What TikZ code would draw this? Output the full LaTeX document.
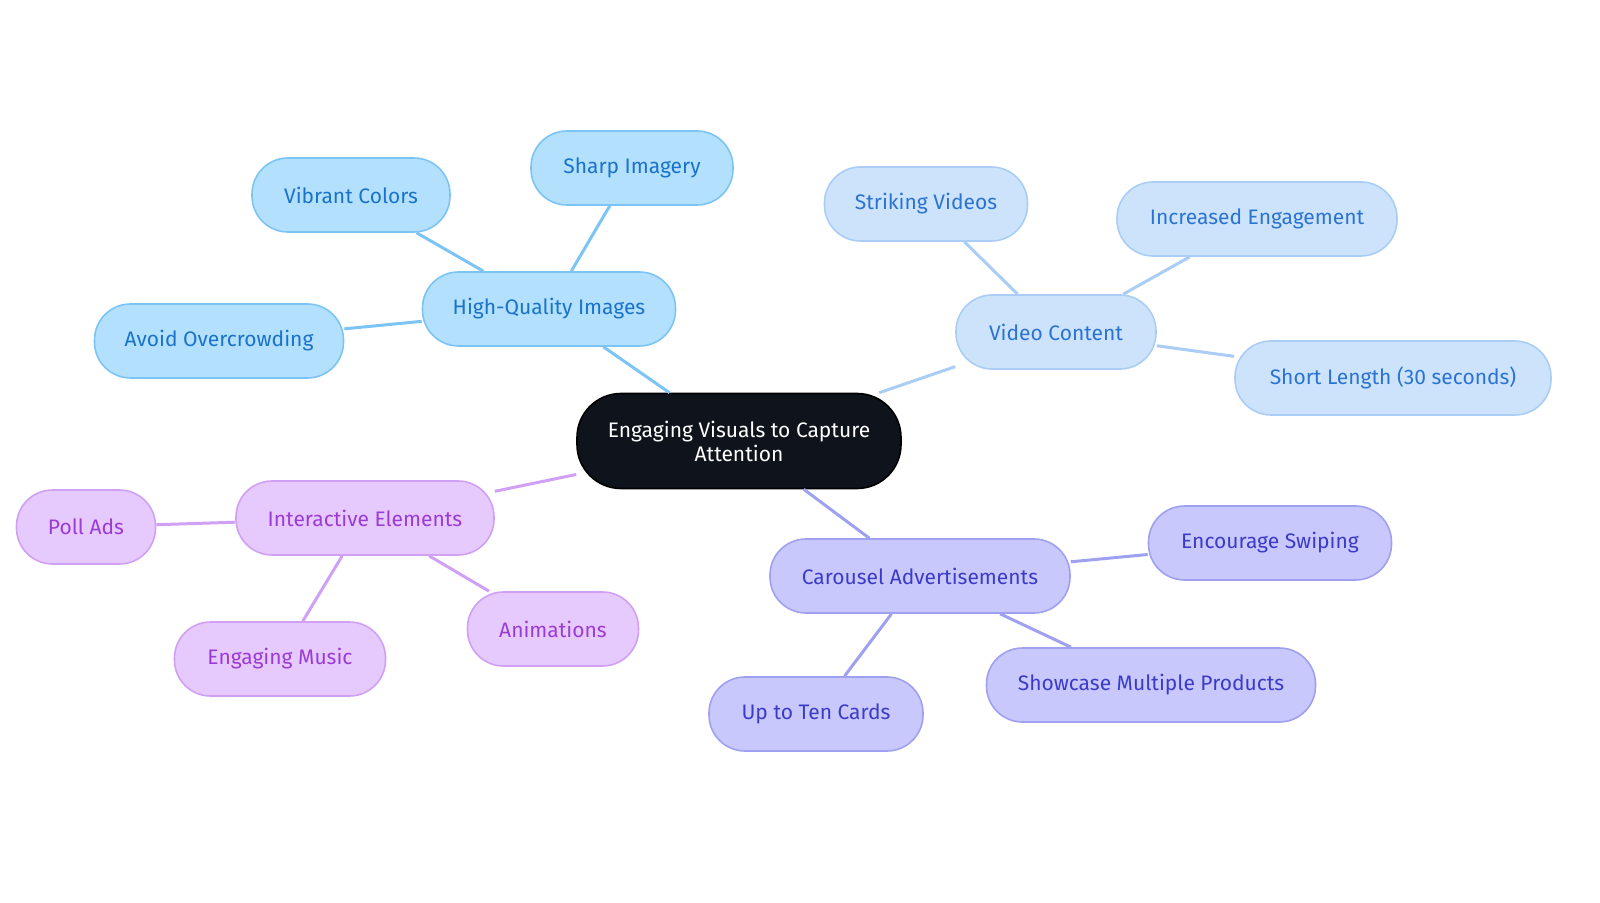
\documentclass[tikz,border=0pt]{standalone}
\usepackage{fontspec}
\setmainfont{Fira Sans}
\begin{document}
\begin{tikzpicture}[x=0.5pt,y=-0.5pt,
 base/.style={rounded corners=18pt,line width=0.8pt,minimum height=37pt,inner sep=0pt,font=\fontsize{10.5}{12}\selectfont},
 bl/.style={base,fill={rgb,255:red,179;green,224;blue,253},draw={rgb,255:red,124;green,196;blue,245},text={rgb,255:red,26;green,115;blue,200}},
 lb/.style={base,fill={rgb,255:red,205;green,227;blue,251},draw={rgb,255:red,169;green,205;blue,245},text={rgb,255:red,42;green,115;blue,208}},
 pu/.style={base,fill={rgb,255:red,230;green,202;blue,253},draw={rgb,255:red,208;green,160;blue,245},text={rgb,255:red,155;green,59;blue,214}},
 ind/.style={base,fill={rgb,255:red,200;green,200;blue,252},draw={rgb,255:red,160;green,160;blue,240},text={rgb,255:red,59;green,59;blue,200}},
 eb/.style={line width=1.5pt,draw={rgb,255:red,124;green,196;blue,245}},
 el/.style={line width=1.5pt,draw={rgb,255:red,169;green,205;blue,245}},
 ep/.style={line width=1.5pt,draw={rgb,255:red,208;green,160;blue,245}},
 ei/.style={line width=1.5pt,draw={rgb,255:red,160;green,160;blue,240}}]
\useasboundingbox (0,0) rectangle (1600,903);
\node[base,fill={rgb,255:red,15;green,20;blue,28},draw=black,text=white,minimum width=162pt,minimum height=47.5pt,rounded corners=22pt,align=center] (c) at (739,441) {Engaging Visuals to Capture\\Attention};
\node[bl,minimum width=126.5pt] (hq) at (549,309) {High-Quality Images};
\node[bl,minimum width=101pt] (si) at (632,168) {Sharp Imagery};
\node[bl,minimum width=99pt] (vc) at (351,195) {Vibrant Colors};
\node[bl,minimum width=124.5pt] (ao) at (219,341) {Avoid Overcrowding};
\node[lb,minimum width=100pt] (vi) at (1056,332) {Video Content};
\node[lb,minimum width=101.5pt] (sv) at (926,204) {Striking Videos};
\node[lb,minimum width=140pt] (ie) at (1257,219) {Increased Engagement};
\node[lb,minimum width=158pt] (sl) at (1393,378) {Short Length (30 seconds)};
\node[pu,minimum width=129pt] (ia) at (365,518) {Interactive Elements};
\node[pu,minimum width=69.5pt] (pa) at (86,527) {Poll Ads};
\node[pu,minimum width=105.5pt] (em) at (280,659) {Engaging Music};
\node[pu,minimum width=85.5pt] (an) at (553,629) {Animations};
\node[ind,minimum width=150pt] (ca) at (920,576) {Carousel Advertisements};
\node[ind,minimum width=121.5pt] (es) at (1270,543) {Encourage Swiping};
\node[ind,minimum width=164.5pt] (sm) at (1151,685) {Showcase Multiple Products};
\node[ind,minimum width=107pt] (ut) at (816,714) {Up to Ten Cards};
\draw[eb] (c) -- (hq); \draw[eb] (hq) -- (si); \draw[eb] (hq) -- (vc); \draw[eb] (hq) -- (ao);
\draw[el] (c) -- (vi); \draw[el] (vi) -- (sv); \draw[el] (vi) -- (ie); \draw[el] (vi) -- (sl);
\draw[ep] (c) -- (ia); \draw[ep] (ia) -- (pa); \draw[ep] (ia) -- (em); \draw[ep] (ia) -- (an);
\draw[ei] (c) -- (ca); \draw[ei] (ca) -- (es); \draw[ei] (ca) -- (sm); \draw[ei] (ca) -- (ut);
\end{tikzpicture}
\end{document}
